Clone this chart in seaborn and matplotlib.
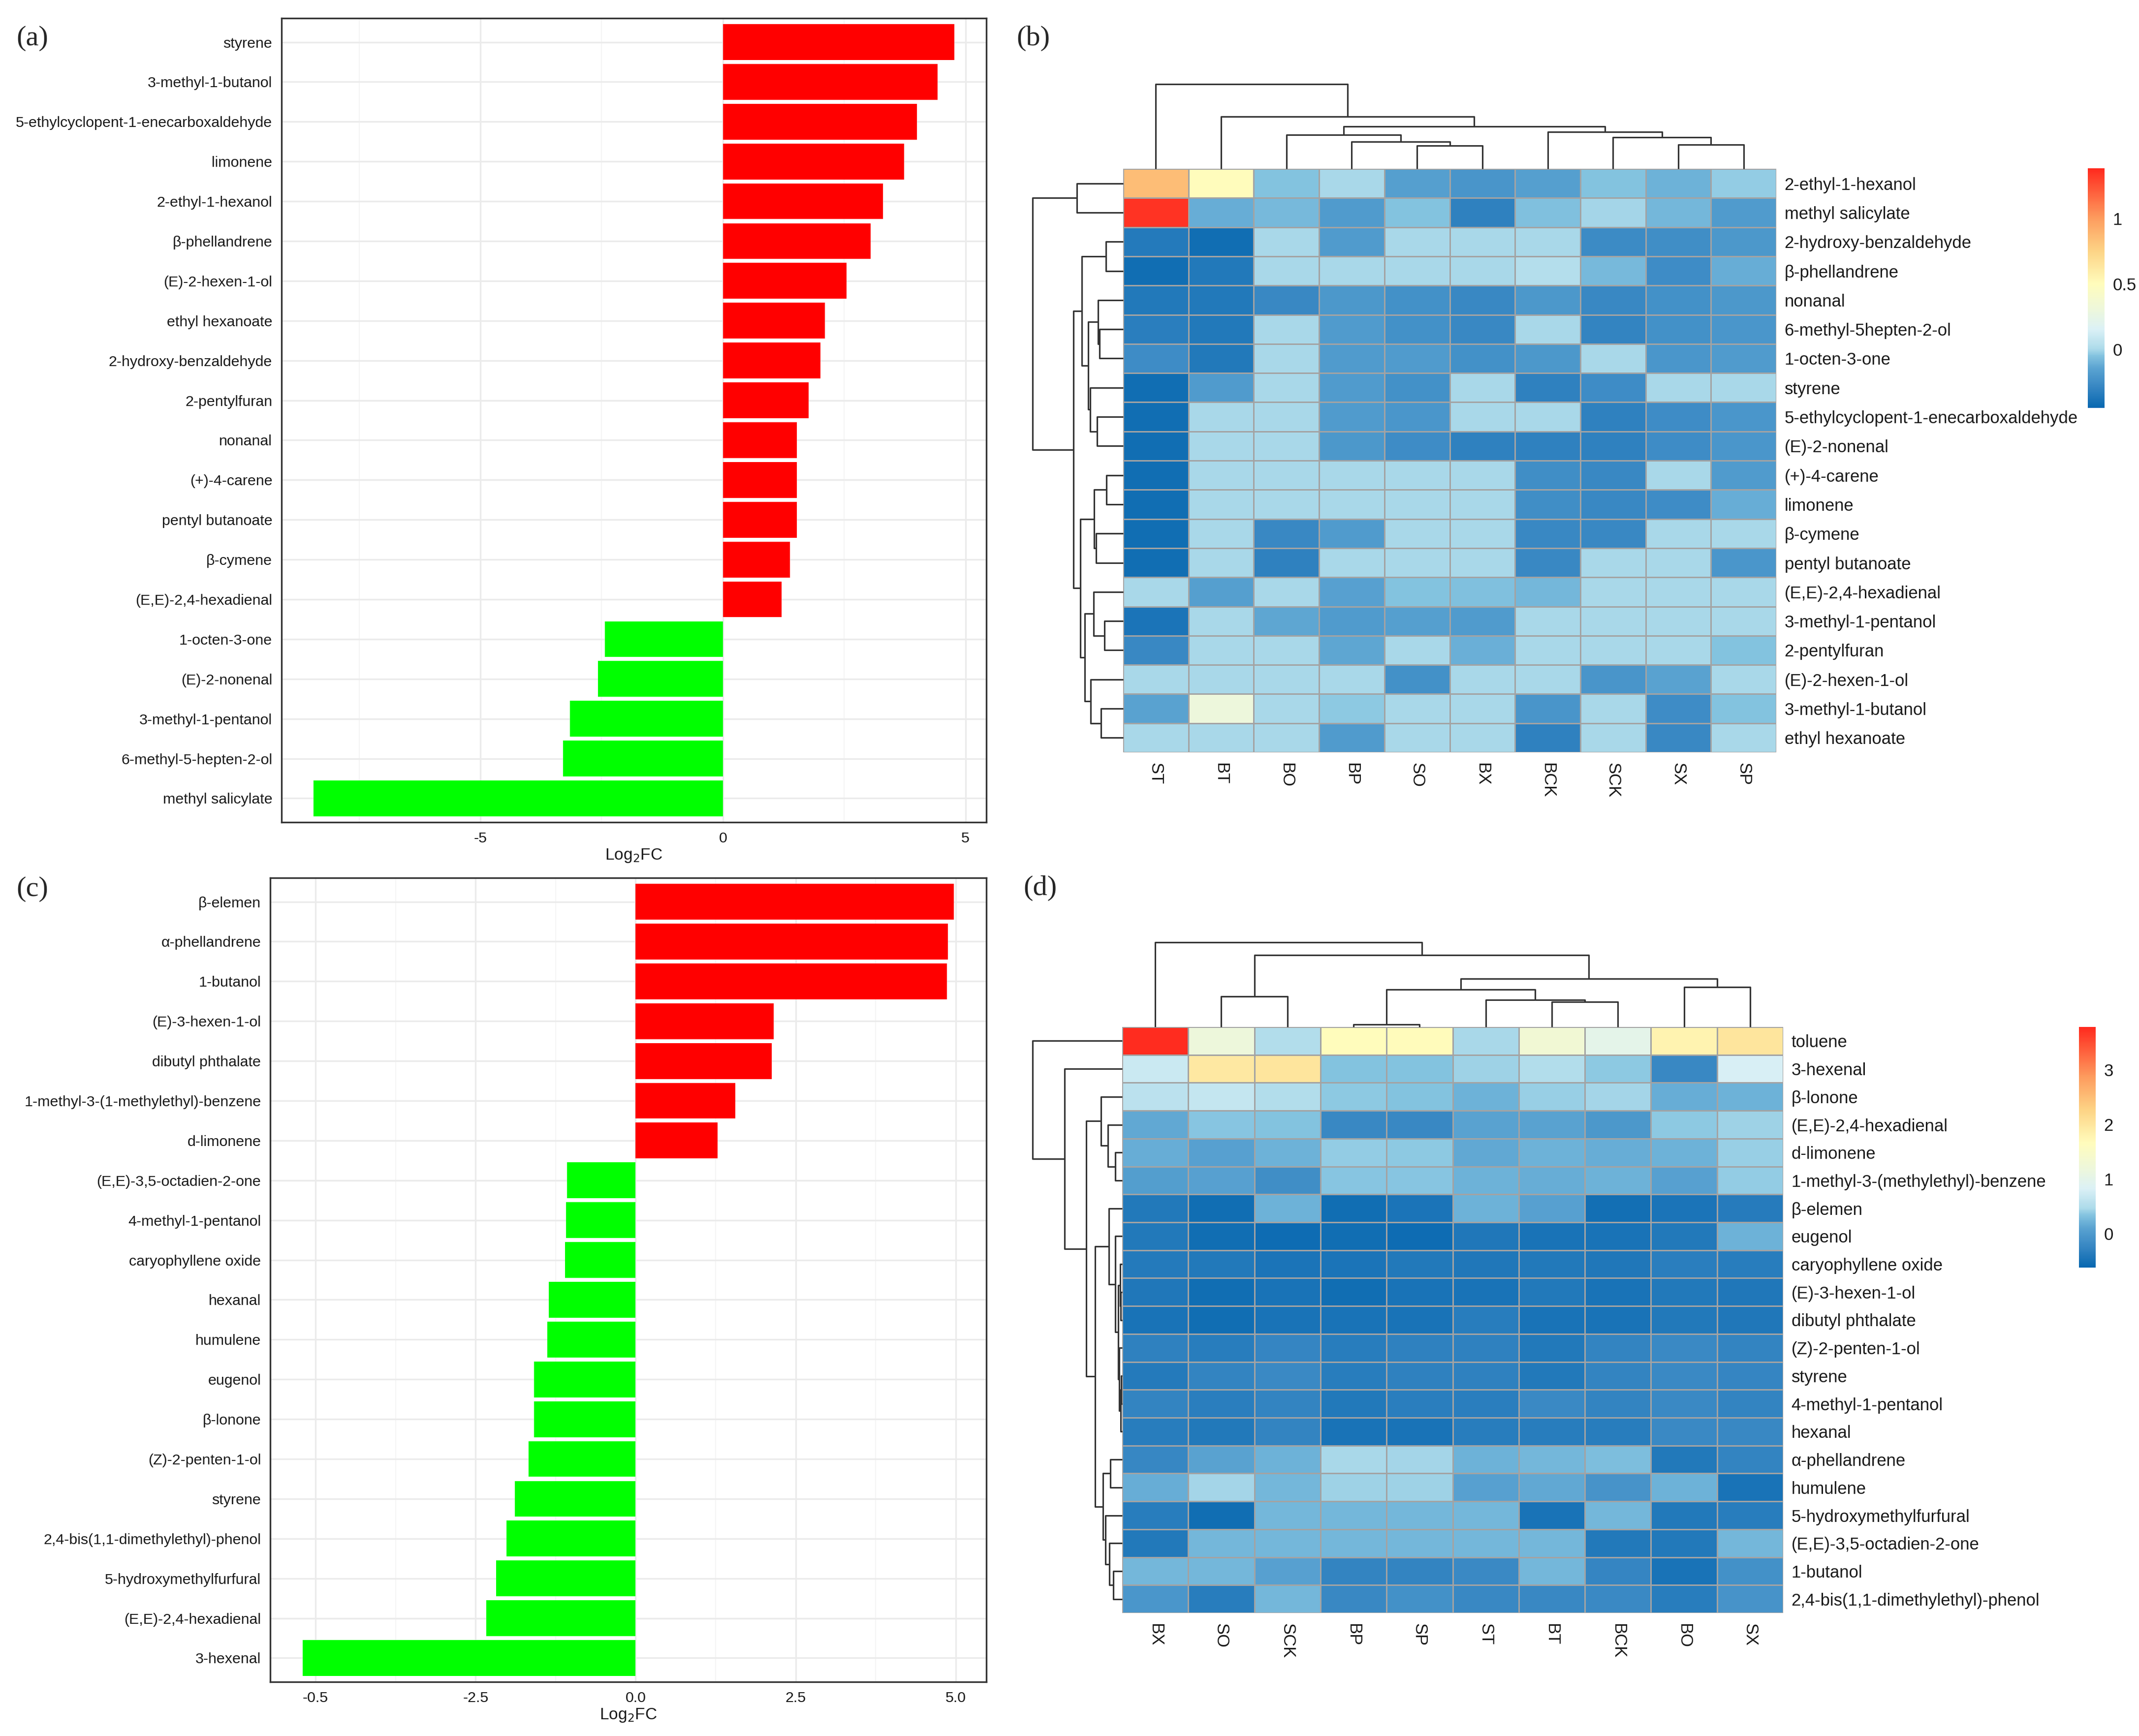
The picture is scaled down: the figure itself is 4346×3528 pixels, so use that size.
import matplotlib
matplotlib.use('Agg')
import matplotlib.pyplot as plt
from matplotlib.colors import LinearSegmentedColormap
from matplotlib.ticker import MultipleLocator
import numpy as np
import pandas as pd
import seaborn as sns

# ---------------------------------------------------------------------------
# data
# ---------------------------------------------------------------------------
# (a) log2 fold change
a_names = ['styrene', '3-methyl-1-butanol', '5-ethylcyclopent-1-enecarboxaldehyde',
           'limonene', '2-ethyl-1-hexanol', 'β-phellandrene', '(E)-2-hexen-1-ol',
           'ethyl hexanoate', '2-hydroxy-benzaldehyde', '2-pentylfuran', 'nonanal',
           '(+)-4-carene', 'pentyl butanoate', 'β-cymene', '(E,E)-2,4-hexadienal',
           '1-octen-3-one', '(E)-2-nonenal', '3-methyl-1-pentanol',
           '6-methyl-5-hepten-2-ol', 'methyl salicylate']
a_fc = [4.77, 4.43, 4.00, 3.74, 3.30, 3.05, 2.55, 2.10, 2.01, 1.77, 1.52, 1.52,
        1.52, 1.38, 1.21, -2.43, -2.58, -3.15, -3.30, -8.44]

# (c) log2 fold change
c_names = ['β-elemen', 'α-phellandrene', '1-butanol', '(E)-3-hexen-1-ol',
           'dibutyl phthalate', '1-methyl-3-(1-methylethyl)-benzene', 'd-limonene',
           '(E,E)-3,5-octadien-2-one', '4-methyl-1-pentanol', 'caryophyllene oxide',
           'hexanal', 'humulene', 'eugenol', 'β-lonone', '(Z)-2-penten-1-ol',
           'styrene', '2,4-bis(1,1-dimethylethyl)-phenol', '5-hydroxymethylfurfural',
           '(E,E)-2,4-hexadienal', '3-hexenal']
c_fc = [4.97, 4.88, 4.86, 2.16, 2.13, 1.56, 1.28, -1.07, -1.09, -1.10, -1.36,
        -1.38, -1.59, -1.59, -1.67, -1.89, -2.02, -2.18, -2.33, -5.20]
c_ticks = [-5, -2.5, 0, 2.5, 5]
c_ticklabels = ['-0.5', '-2.5', '0.0', '2.5', '5.0']

# (b) heatmap
b_cols = ['ST', 'BT', 'BO', 'BP', 'SO', 'BX', 'BCK', 'SCK', 'SX', 'SP']
b_rows = ['2-ethyl-1-hexanol', 'methyl salicylate', '2-hydroxy-benzaldehyde',
          'β-phellandrene', 'nonanal', '6-methyl-5hepten-2-ol', '1-octen-3-one',
          'styrene', '5-ethylcyclopent-1-enecarboxaldehyde', '(E)-2-nonenal',
          '(+)-4-carene', 'limonene', 'β-cymene', 'pentyl butanoate',
          '(E,E)-2,4-hexadienal', '3-methyl-1-pentanol', '2-pentylfuran',
          '(E)-2-hexen-1-ol', '3-methyl-1-butanol', 'ethyl hexanoate']
b_vals = [
    [0.85, 0.50, -0.05, 0.00, -0.17, -0.22, -0.17, -0.05, -0.10, -0.03],
    [1.35, -0.12, -0.08, -0.19, -0.05, -0.32, -0.06, -0.01, -0.09, -0.19],
    [-0.35, -0.42, 0.00, -0.19, 0.00, 0.00, 0.00, -0.27, -0.25, -0.20],
    [-0.42, -0.36, 0.00, 0.00, 0.00, 0.00, 0.03, -0.08, -0.26, -0.12],
    [-0.36, -0.36, -0.28, -0.20, -0.24, -0.28, -0.20, -0.28, -0.24, -0.20],
    [-0.33, -0.36, 0.00, -0.19, -0.24, -0.28, 0.00, -0.30, -0.24, -0.21],
    [-0.26, -0.36, 0.00, -0.19, -0.19, -0.24, -0.20, 0.00, -0.21, -0.19],
    [-0.42, -0.19, 0.00, -0.19, -0.24, 0.00, -0.32, -0.26, 0.00, 0.00],
    [-0.42, 0.00, 0.00, -0.19, -0.21, 0.00, 0.00, -0.32, -0.26, -0.21],
    [-0.42, 0.00, 0.00, -0.20, -0.26, -0.32, -0.32, -0.32, -0.26, -0.21],
    [-0.42, 0.00, 0.00, 0.00, 0.00, 0.00, -0.25, -0.28, 0.00, -0.19],
    [-0.42, 0.00, 0.00, 0.00, 0.00, 0.00, -0.25, -0.28, -0.26, -0.12],
    [-0.42, 0.00, -0.28, -0.19, 0.00, 0.00, -0.28, -0.28, 0.00, 0.00],
    [-0.42, 0.00, -0.32, 0.00, 0.00, 0.00, -0.28, 0.00, 0.00, -0.21],
    [0.00, -0.17, 0.00, -0.16, -0.05, -0.06, -0.09, 0.00, 0.00, 0.00],
    [-0.38, 0.00, -0.14, -0.19, -0.17, -0.19, 0.00, 0.00, 0.00, 0.00],
    [-0.28, 0.00, 0.00, -0.14, 0.00, -0.11, 0.00, 0.00, 0.00, -0.05],
    [0.00, 0.00, 0.00, 0.00, -0.24, 0.00, 0.00, -0.22, -0.15, 0.00],
    [-0.15, 0.30, 0.00, -0.04, 0.00, 0.00, -0.22, 0.00, -0.26, -0.05],
    [0.00, 0.00, 0.00, -0.19, 0.00, 0.00, -0.32, 0.00, -0.28, 0.00],
]
b_range = (-0.45, 1.385)
b_cbar_ticks = [0, 0.5, 1]
b_cbar_labels = ['0', '0.5', '1']
# dendrograms: (left child, right child, height); clusters numbered n, n+1, ...
b_col_tree = [(4, 5, 42), (8, 9, 44), (3, 10, 49), (7, 11, 57), (2, 12, 62),
              (6, 13, 67), (14, 15, 77), (1, 16, 95), (0, 17, 154)]
b_row_tree = [(0, 1, 282), (2, 3, 104), (5, 6, 144), (4, 22, 152), (8, 9, 160),
              (7, 24, 202), (23, 25, 212), (21, 26, 252), (10, 11, 102),
              (12, 13, 164), (28, 29, 177), (15, 16, 115), (14, 31, 179),
              (18, 19, 134), (17, 33, 199), (32, 34, 235), (30, 35, 262),
              (27, 36, 302), (20, 37, 552)]

# (d) heatmap
d_cols = ['BX', 'SO', 'SCK', 'BP', 'SP', 'ST', 'BT', 'BCK', 'BO', 'SX']
d_rows = ['toluene', '3-hexenal', 'β-lonone', '(E,E)-2,4-hexadienal', 'd-limonene',
          '1-methyl-3-(methylethyl)-benzene', 'β-elemen', 'eugenol',
          'caryophyllene oxide', '(E)-3-hexen-1-ol', 'dibutyl phthalate',
          '(Z)-2-penten-1-ol', 'styrene', '4-methyl-1-pentanol', 'hexanal',
          'α-phellandrene', 'humulene', '5-hydroxymethylfurfural',
          '(E,E)-3,5-octadien-2-one', '1-butanol',
          '2,4-bis(1,1-dimethylethyl)-phenol']
d_vals = [
    [3.75, 1.20, 0.50, 1.65, 1.68, 0.46, 1.30, 1.00, 1.80, 2.00],
    [0.70, 1.95, 2.00, 0.33, 0.33, 0.42, 0.50, 0.37, -0.22, 0.80],
    [0.58, 0.65, 0.50, 0.37, 0.34, 0.22, 0.40, 0.44, 0.18, 0.22],
    [0.15, 0.35, 0.33, -0.22, -0.22, 0.10, 0.10, -0.03, 0.37, 0.42],
    [0.18, 0.08, 0.22, 0.38, 0.37, 0.15, 0.22, 0.18, 0.22, 0.40],
    [0.05, 0.08, -0.14, 0.35, 0.35, 0.22, 0.18, 0.22, 0.08, 0.38],
    [-0.40, -0.55, 0.22, -0.55, -0.45, 0.22, 0.08, -0.52, -0.45, -0.37],
    [-0.40, -0.55, -0.56, -0.55, -0.56, -0.42, -0.47, -0.47, -0.40, 0.22],
    [-0.38, -0.40, -0.46, -0.46, -0.40, -0.42, -0.40, -0.42, -0.33, -0.35],
    [-0.42, -0.55, -0.47, -0.55, -0.48, -0.48, -0.40, -0.48, -0.40, -0.42],
    [-0.47, -0.55, -0.47, -0.48, -0.48, -0.35, -0.48, -0.48, -0.40, -0.43],
    [-0.30, -0.35, -0.25, -0.35, -0.30, -0.30, -0.40, -0.27, -0.20, -0.27],
    [-0.38, -0.27, -0.20, -0.35, -0.30, -0.30, -0.40, -0.27, -0.20, -0.25],
    [-0.27, -0.33, -0.27, -0.40, -0.33, -0.33, -0.20, -0.27, -0.20, -0.27],
    [-0.35, -0.40, -0.27, -0.47, -0.47, -0.35, -0.35, -0.35, -0.20, -0.22],
    [-0.24, 0.10, 0.22, 0.46, 0.44, 0.22, 0.24, 0.30, -0.40, -0.27],
    [0.18, 0.44, 0.24, 0.42, 0.42, 0.08, 0.15, -0.08, 0.22, -0.47],
    [-0.35, -0.55, 0.24, 0.24, 0.24, 0.24, -0.48, 0.24, -0.40, -0.35],
    [-0.40, 0.24, 0.24, 0.24, 0.24, 0.24, 0.24, -0.40, -0.40, 0.24],
    [0.24, 0.24, 0.08, -0.27, -0.27, -0.20, 0.24, -0.25, -0.48, -0.12],
    [-0.05, -0.35, 0.24, -0.22, -0.12, -0.22, -0.22, -0.20, -0.35, -0.08],
]
d_range = (-0.62, 3.78)
d_cbar_ticks = [0, 1, 2, 3]
d_cbar_labels = ['0', '1', '2', '3']
d_col_tree = [(3, 4, 4), (6, 7, 45), (5, 11, 49), (1, 2, 55), (10, 12, 67),
              (8, 9, 72), (14, 15, 87), (13, 16, 129), (0, 17, 152)]
d_row_tree = [(4, 5, 43), (3, 21, 88), (2, 22, 128), (9, 10, 8), (8, 24, 12),
              (12, 13, 6), (26, 14, 10), (11, 27, 18), (25, 28, 25), (7, 29, 43),
              (6, 30, 80), (15, 16, 73), (19, 20, 53), (18, 33, 79), (17, 34, 103),
              (32, 35, 118), (31, 36, 164), (23, 37, 220), (1, 38, 350),
              (0, 39, 545)]

# ---------------------------------------------------------------------------
# styling helpers
# ---------------------------------------------------------------------------
W, H = 4346, 3528
sns.set_style('white')
plt.rcParams['font.family'] = ['Liberation Sans', 'DejaVu Sans']

heat_cmap = LinearSegmentedColormap.from_list('heat', [
    (0.000, '#0868b0'), (0.082, '#3585c2'), (0.164, '#5aa3d1'),
    (0.218, '#85c4e0'), (0.245, '#acdaea'), (0.327, '#dbf1f6'),
    (0.409, '#edf7dc'), (0.518, '#fffcbc'), (0.654, '#fdd486'),
    (0.790, '#fd9d5f'), (1.000, '#ff2a1e')])

fig = plt.figure(figsize=(W / 300, H / 300), dpi=300)


def px_axes(left, top, right, bottom):
    # axes placed with pixel edges of the 4346x3528 canvas
    return fig.add_axes([left / W, 1 - bottom / H, (right - left) / W,
                         (bottom - top) / H])


def fc_panel(ax, names, fc, ticks, ticklabels):
    df = pd.DataFrame({'name': names, 'fc': fc})
    df['dir'] = np.where(df['fc'] > 0, 'up', 'down')
    sns.barplot(data=df, x='fc', y='name', hue='dir', orient='h', dodge=False,
                palette={'up': '#ff0000', 'down': '#00ff00'}, saturation=1,
                width=0.9, linewidth=0, legend=False, ax=ax)
    lo, hi = min(min(fc), 0), max(max(fc), 0)
    pad = (hi - lo) * 0.05
    ax.set_xlim(lo - pad, hi + pad)
    ax.set_ylim(len(names) - 0.4, -0.6)
    ax.set_xticks(ticks)
    ax.set_xticklabels(ticklabels)
    ax.xaxis.set_minor_locator(MultipleLocator(2.5 if ticks[1] - ticks[0] == 5 else 1.25))
    ax.set_axisbelow(True)
    ax.grid(which='major', axis='both', color='#ebebeb', linewidth=0.8)
    ax.grid(which='minor', axis='x', color='#f5f5f5', linewidth=0.5)
    for sp in ax.spines.values():
        sp.set_visible(True)
        sp.set_color('#333333')
        sp.set_linewidth(0.8)
    ax.tick_params(axis='both', which='major', length=2.5, width=0.6,
                   color='#333333', labelcolor='#1a1a1a', labelsize=7.3, pad=2)
    ax.tick_params(axis='x', which='minor', length=0)
    ax.set_ylabel('')
    ax.set_xlabel('Log$_2$FC', fontsize=8, color='#1a1a1a', labelpad=1)


def draw_tree(ax, tree, n, side):
    pos = {i: i + 0.5 for i in range(n)}
    hgt = {i: 0.0 for i in range(n)}
    for k, (p, q, h) in enumerate(tree):
        xs = [pos[p], pos[p], pos[q], pos[q]]
        ys = [hgt[p], h, h, hgt[q]]
        if side == 'top':
            ax.plot(xs, ys, color='#333333', lw=0.75, clip_on=False,
                    solid_capstyle='butt')
        else:
            ax.plot(ys, xs, color='#333333', lw=0.75, clip_on=False,
                    solid_capstyle='butt')
        pos[n + k] = (pos[p] + pos[q]) / 2
        hgt[n + k] = h
    top = max(t[2] for t in tree)
    if side == 'top':
        ax.set_xlim(0, n)
        ax.set_ylim(0, top)
    else:
        ax.set_ylim(n, 0)
        ax.set_xlim(top, 0)
    ax.axis('off')


def heat_panel(box, rows, cols, vals, vrange, col_tree, row_tree, cbar_box,
               cticks, clabels):
    left, top, right, bottom, col_top, row_left = box
    ax = px_axes(left, top, right, bottom)
    cax = px_axes(*cbar_box)
    df = pd.DataFrame(vals, index=rows, columns=cols)
    sns.heatmap(df, ax=ax, cmap=heat_cmap, vmin=vrange[0], vmax=vrange[1],
                linewidths=0.7, linecolor='#a3a3a3', cbar_ax=cax,
                xticklabels=True, yticklabels=True)
    ax.yaxis.tick_right()
    ax.tick_params(axis='both', length=0, labelsize=8.3, colors='#1a1a1a')
    ax.tick_params(axis='y', pad=4)
    ax.tick_params(axis='x', pad=5)
    plt.setp(ax.get_yticklabels(), rotation=0, ha='left')
    plt.setp(ax.get_xticklabels(), rotation=-90, va='top')
    ax.set_xlabel('')
    ax.set_ylabel('')
    # colour key
    cb = ax.collections[0].colorbar
    cb.outline.set_visible(False)
    cb.set_ticks(cticks)
    cb.set_ticklabels(clabels)
    cax.tick_params(length=0, labelsize=8.3, pad=4, colors='#1a1a1a')
    # dendrograms
    dcol = px_axes(left, col_top, right, top)
    draw_tree(dcol, col_tree, len(cols), 'top')
    drow = px_axes(row_left, top, left, bottom)
    draw_tree(drow, row_tree, len(rows), 'left')


# ---------------------------------------------------------------------------
# panels
# ---------------------------------------------------------------------------
ax_a = px_axes(572, 37, 2004, 1671)
fc_panel(ax_a, a_names, a_fc, [-5, 0, 5], ['-5', '0', '5'])

ax_c = px_axes(549, 1784, 2004, 3418)
fc_panel(ax_c, c_names, c_fc, c_ticks, c_ticklabels)

heat_panel((2282, 343, 3609, 1529, 171, 2098), b_rows, b_cols, b_vals, b_range,
           b_col_tree, b_row_tree, (4242, 342, 4276, 829),
           b_cbar_ticks, b_cbar_labels)
heat_panel((2280, 2087, 3623, 3278, 1915, 2098), d_rows, d_cols, d_vals,
           d_range, d_col_tree, d_row_tree, (4224, 2087, 4258, 2576),
           d_cbar_ticks, d_cbar_labels)

# panel letters
for lab, x, y in [('(a)', 33, 78), ('(b)', 2065, 78), ('(c)', 33, 1807),
                  ('(d)', 2079, 1805)]:
    fig.text(x / W, 1 - y / H, lab, fontsize=14, family='Liberation Serif',
             ha='left', va='center')

fig.savefig('out.png', dpi=300, facecolor='white')
